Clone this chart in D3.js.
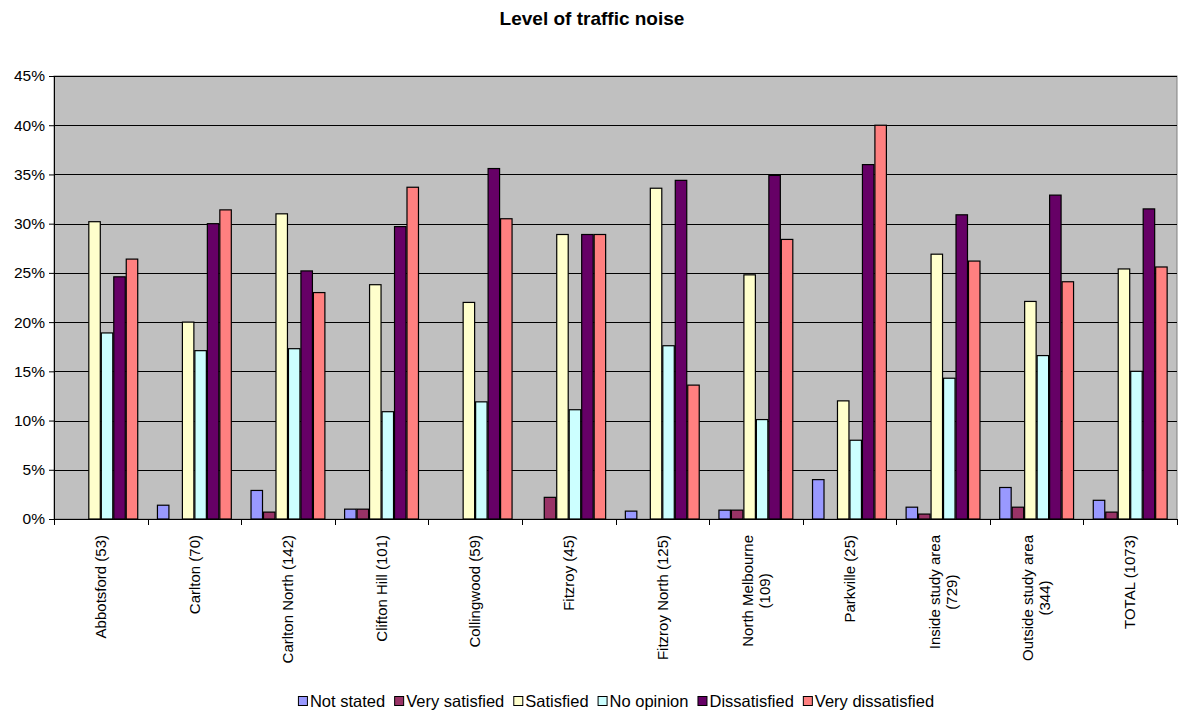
<!DOCTYPE html>
<html>
<head>
<meta charset="utf-8">
<script src="https://cdn.jsdelivr.net/npm/d3@7"></script>
<style>
  body { margin: 0; background: #fff; }
  text { font-family: Arial, "Liberation Sans", sans-serif; fill: #000; }
</style>
</head>
<body>
<div id="chart"></div>
<script>
const W = 1179, H = 710;
const margin = { top: 76, right: 2, bottom: 191, left: 54 };

const categories = [
  "Abbotsford (53)", "Carlton (70)", "Carlton North (142)", "Clifton Hill (101)",
  "Collingwood (59)", "Fitzroy (45)", "Fitzroy North (125)", "North Melbourne\n(109)",
  "Parkville (25)", "Inside study area\n(729)", "Outside study area\n(344)", "TOTAL (1073)"
];
const seriesNames = ["Not stated", "Very satisfied", "Satisfied", "No opinion", "Dissatisfied", "Very dissatisfied"];
const seriesColors = ["#9999FF", "#993366", "#FFFFCC", "#CCFFFF", "#660066", "#FF8080"];

// values in %
const notStated        = [0,    1.4,  2.9,  1.0,  0,    0,    0.8,  0.9,  4.0,  1.2,  3.2,  1.9];
const verySatisfied    = [0,    0,    0.7,  1.0,  0,    2.2,  0,    0.9,  0,    0.5,  1.2,  0.7];
const satisfied        = [30.2, 20.0, 31.0, 23.8, 22.0, 28.9, 33.6, 24.8, 12.0, 26.9, 22.1, 25.4];
const noOpinion        = [18.9, 17.1, 17.3, 10.9, 11.9, 11.1, 17.6, 10.1, 8.0,  14.3, 16.6, 15.0];
const dissatisfied     = [24.6, 30.0, 25.2, 29.7, 35.6, 28.9, 34.4, 34.9, 36.0, 30.9, 32.9, 31.5];
const veryDissatisfied = [26.4, 31.4, 23.0, 33.7, 30.5, 28.9, 13.6, 28.4, 40.0, 26.2, 24.1, 25.6];
const yTicks = [0, 5, 10, 15, 20, 25, 30, 35, 40, 45];

const seriesValues = [notStated, verySatisfied, satisfied, noOpinion, dissatisfied, veryDissatisfied];
const rows = categories.map((c, i) => ({
  cat: c,
  vals: seriesNames.map((s, j) => ({ key: s, value: seriesValues[j][i], color: seriesColors[j] }))
}));

const svg = d3.select("#chart").append("svg")
  .attr("width", W).attr("height", H);

const innerW = W - margin.left - margin.right;
const innerH = H - margin.top - margin.bottom;

const x0 = d3.scaleBand().domain(categories).range([0, innerW]).paddingInner(0.2).paddingOuter(0.1);
const x1 = d3.scaleBand().domain(seriesNames).range([0, x0.bandwidth()]);
const y = d3.scaleLinear().domain([0, 45]).range([innerH, 0]);

// title
svg.append("text")
  .attr("x", 592).attr("y", 25)
  .attr("text-anchor", "middle")
  .style("font-size", "19px").style("font-weight", "bold")
  .text("Level of traffic noise");

const g = svg.append("g").attr("transform", `translate(${margin.left},${margin.top})`);

// plot background
g.append("rect")
  .attr("width", innerW).attr("height", innerH)
  .attr("fill", "#C0C0C0").attr("stroke", "#808080").attr("stroke-width", 1);

// gridlines
g.selectAll(".grid").data(yTicks.filter(d => d > 0)).join("line")
  .attr("class", "grid")
  .attr("x1", 0).attr("x2", innerW)
  .attr("y1", d => Math.round(y(d)) + 0.5).attr("y2", d => Math.round(y(d)) + 0.5)
  .attr("stroke", "#000").attr("stroke-width", 1);

// bars
const groups = g.selectAll(".cat").data(rows).join("g")
  .attr("class", "cat")
  .attr("transform", d => `translate(${x0(d.cat)},0)`);

groups.selectAll("rect").data(d => d.vals.filter(v => v.value > 0)).join("rect")
  .attr("x", d => x1(d.key) + 0.5)
  .attr("y", d => y(d.value))
  .attr("width", x1.bandwidth() - 1)
  .attr("height", d => innerH - y(d.value))
  .attr("fill", d => d.color)
  .attr("stroke", "#000").attr("stroke-width", 1.2);

// y axis
const yAxis = g.append("g")
  .call(d3.axisLeft(y).tickValues(yTicks).tickFormat(d => d + "%").tickSize(5).tickSizeOuter(0));
yAxis.select(".domain").attr("stroke", "#000");
yAxis.selectAll(".tick line").attr("stroke", "#000");
yAxis.selectAll("text").style("font-size", "15.5px").attr("x", -9).attr("fill", "#000");

// x axis: ticks at category boundaries
const bounds = d3.range(categories.length + 1).map(i => i * x0.step());
const xAxis = g.append("g").attr("transform", `translate(0,${innerH})`);
xAxis.append("line").attr("x1", 0).attr("x2", innerW).attr("y1", 0.5).attr("y2", 0.5).attr("stroke", "#000");
xAxis.selectAll(".xt").data(bounds).join("line")
  .attr("class", "xt")
  .attr("x1", d => Math.round(d) + 0.5).attr("x2", d => Math.round(d) + 0.5)
  .attr("y1", 0).attr("y2", 6).attr("stroke", "#000");

// rotated category labels
const fs = 15, lh = 17;
categories.forEach(c => {
  const lines = c.split("\n");
  const cx = x0(c) + x0.bandwidth() / 2;
  const t = xAxis.append("text")
    .style("font-size", fs + "px")
    .attr("text-anchor", "middle");
  lines.forEach((ln, i) => {
    t.append("tspan").attr("x", 0).attr("dy", i === 0 ? 0 : lh).text(ln);
  });
  let maxLen = 0;
  t.selectAll("tspan").each(function () { maxLen = Math.max(maxLen, this.getComputedTextLength()); });
  const blockShift = -((lines.length - 1) * lh) / 2 + fs * 0.35;
  t.attr("transform", `translate(${cx + blockShift},${16 + maxLen / 2}) rotate(-90)`);
});

// legend
const legend = svg.append("g");
let lx = 0;
seriesNames.forEach((s, i) => {
  const item = legend.append("g").attr("transform", `translate(${lx},0)`);
  item.append("rect").attr("x", 0.5).attr("y", -10.5).attr("width", 9).attr("height", 9)
    .attr("fill", seriesColors[i]).attr("stroke", "#000");
  const t = item.append("text").attr("x", 12).attr("y", 0)
    .style("font-size", "16.5px").text(s);
  lx += 12 + t.node().getComputedTextLength() + 9;
});
legend.attr("transform", `translate(${616 - (lx - 9) / 2},707)`);
</script>
</body>
</html>
